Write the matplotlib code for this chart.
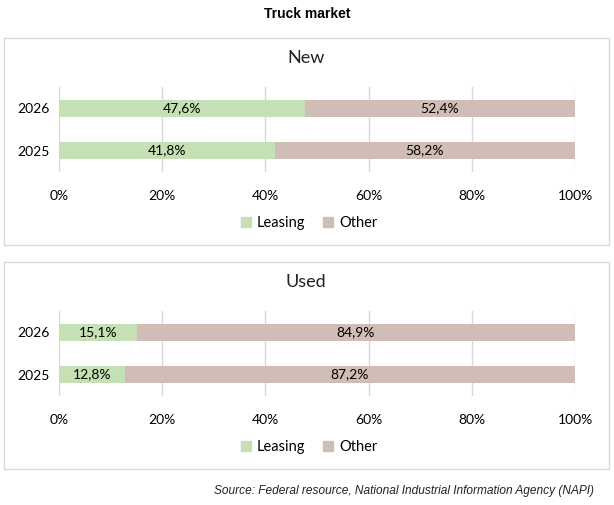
import matplotlib
matplotlib.use("Agg")
import matplotlib.pyplot as plt
from matplotlib.patches import Rectangle, Patch

# --- DATA ---
years = ["2025", "2026"]
new_leasing = [41.8, 47.6]
new_other = [58.2, 52.4]
used_leasing = [12.8, 15.1]
used_other = [87.2, 84.9]
series_names = ["Leasing", "Other"]
x_ticks = [0, 20, 40, 60, 80, 100]

GREEN = "#C5E0B4"
BROWN = "#D0BDB5"
GRID = "#D9D9D9"
FONT = ["Lato", "DejaVu Sans"]

W, H = 614, 505
fig = plt.figure(figsize=(W / 100, H / 100), dpi=100)


def px_box(x0, y0, x1, y1):
    # pixel coords (top-left origin) -> figure fraction rect
    return [x0 / W, 1 - y1 / H, (x1 - x0) / W, (y1 - y0) / H]


fig.text(307 / W, 1 - 14 / H, "Truck market", ha="center", va="center",
         fontsize=10, fontweight="bold", family=["Liberation Sans", "DejaVu Sans"])

fig.text(594 / W, 1 - 491 / H,
         "Source: Federal resource, National Industrial Information Agency (NAPI)",
         ha="right", va="center", fontsize=8.6, style="italic",
         family=["Liberation Sans", "DejaVu Sans"], color="#222222")


def panel(top, title, leasing, other):
    # outer box
    fig.patches.append(Rectangle((3.5 / W, 1 - (top + 208) / H), 605 / W, 207 / H,
                                 transform=fig.transFigure, fill=False,
                                 edgecolor=GRID, linewidth=1))
    fig.text(306 / W, 1 - (top + 21) / H, title, ha="center", va="center",
             fontsize=13, family=FONT, color="#222222")

    ax = fig.add_axes(px_box(59, top + 50, 575, top + 135))
    ypos = list(range(len(years)))
    ax.barh(ypos, leasing, height=0.4, color=GREEN, zorder=2)
    ax.barh(ypos, other, left=leasing, height=0.4, color=BROWN, zorder=2)
    for y, l, o in zip(ypos, leasing, other):
        ax.text(l / 2, y, f"{l:.1f}%".replace(".", ","), ha="center", va="center",
                fontsize=10, family=FONT, zorder=3)
        ax.text(l + o / 2, y, f"{o:.1f}%".replace(".", ","), ha="center", va="center",
                fontsize=10, family=FONT, zorder=3)
    ax.set_xlim(0, 100)
    ax.set_ylim(-0.51, 1.51)
    ax.set_xticks(x_ticks)
    ax.set_xticklabels([f"{t}%" for t in x_ticks], family=FONT, fontsize=10)
    ax.set_yticks(ypos)
    ax.set_yticklabels(years, family=FONT, fontsize=10)
    ax.tick_params(length=0, pad=7)
    ax.tick_params(axis="x", pad=13)
    ax.grid(axis="x", color=GRID, linewidth=1, zorder=0)
    for s in ax.spines.values():
        s.set_visible(False)
    ax.set_facecolor("none")

    handles = [Patch(color=GREEN), Patch(color=BROWN)]
    fig.legend(handles, series_names, loc="center", ncol=2,
               bbox_to_anchor=(309 / W, 1 - (top + 186) / H), frameon=False,
               prop={"family": FONT, "size": 10.5}, handlelength=0.7, handleheight=0.7,
               handletextpad=0.4, columnspacing=1.2)


panel(37, "New", new_leasing, new_other)
panel(261, "Used", used_leasing, used_other)

fig.savefig("out.png", dpi=100)
